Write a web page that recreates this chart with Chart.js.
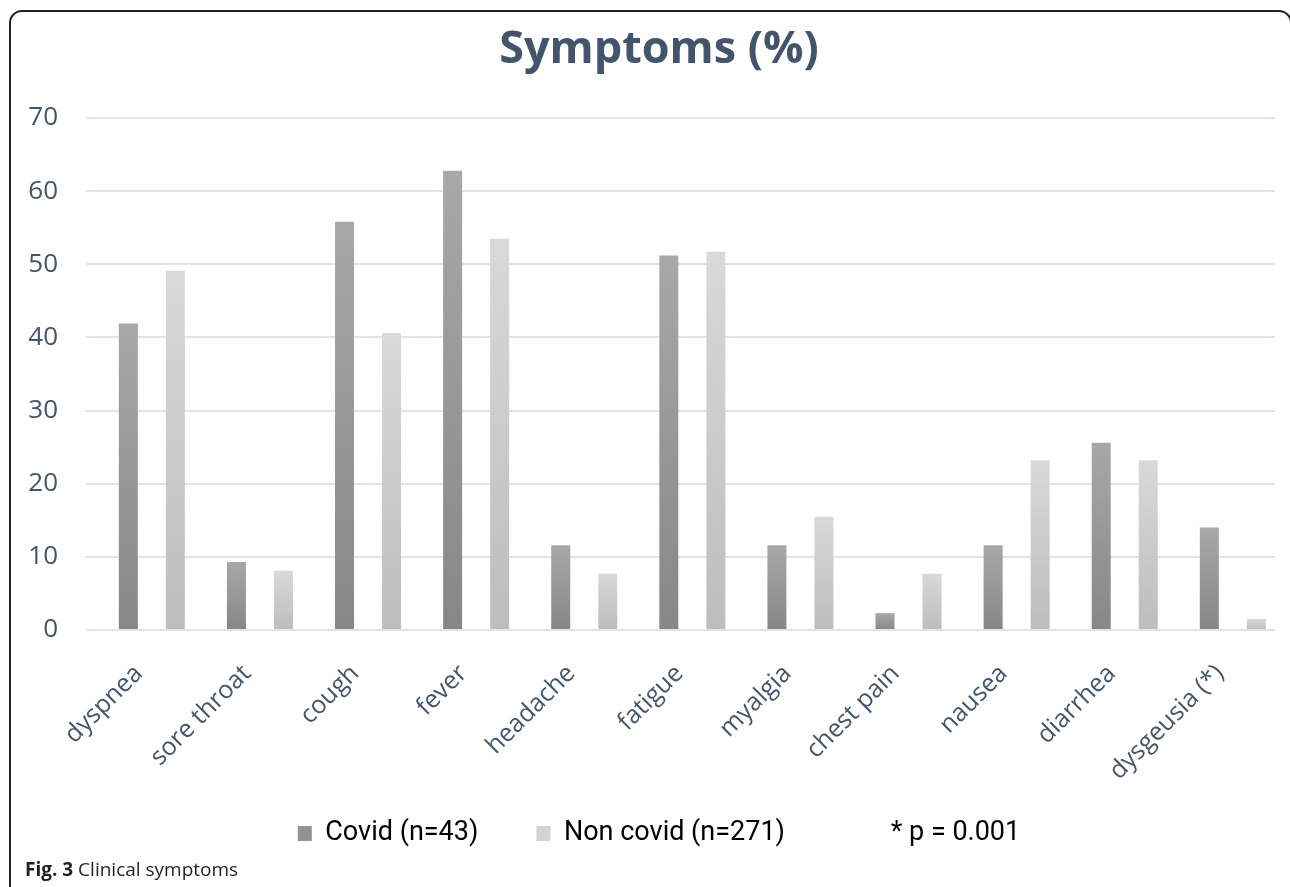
<!DOCTYPE html>
<html>
<head>
<meta charset="utf-8">
<script src="https://cdn.jsdelivr.net/npm/chart.js@4"></script>
<style>
html,body{margin:0;padding:0;background:#fff;width:1290px;height:887px;overflow:hidden}
#frame{position:absolute;left:9px;top:10px;width:1283px;height:920px;border:2px solid #222;border-radius:13px;box-sizing:border-box}
#wrap{position:absolute;left:0;top:0;width:1290px;height:887px}
#cap{position:absolute;left:25px;top:856px;font-family:"Open Sans",sans-serif;font-size:19px;color:#231f20;white-space:nowrap}
#cap b{font-weight:700}
</style>
</head>
<body>
<div id="frame"></div>
<div id="wrap"><canvas id="c" width="1290" height="887"></canvas></div>
<div id="cap"><b>Fig. 3</b> Clinical symptoms</div>
<script>
const categories = ['dyspnea', 'sore throat', 'cough', 'fever', 'headache', 'fatigue', 'myalgia', 'chest pain', 'nausea', 'diarrhea', 'dysgeusia (*)'];
const covid = [41.9, 9.3, 55.8, 62.8, 11.6, 51.2, 11.6, 2.3, 11.6, 25.6, 14.0];
const nonCovid = [49.1, 8.1, 40.6, 53.5, 7.7, 51.7, 15.5, 7.7, 23.2, 23.2, 1.5];
const yTicks = [0, 10, 20, 30, 40, 50, 60, 70];
const seriesNames = ['Covid (n=43)', 'Non covid (n=271)', '* p = 0.001'];
const titleText = 'Symptoms (%)';

const TEXT = '#44546a';
const GRID = '#dfe3ea';

function gradientFill(top, bottom) {
  return (ctx) => {
    const chart = ctx.chart;
    if (!chart.chartArea || ctx.type !== 'data' || !ctx.raw) return bottom;
    const ys = chart.scales.y;
    const g = chart.ctx.createLinearGradient(0, ys.getPixelForValue(ctx.raw.y), 0, ys.getPixelForValue(0));
    g.addColorStop(0, top);
    g.addColorStop(1, bottom);
    return g;
  };
}

const toPoints = (arr) => arr.map((v, i) => ({x: i, y: v}));

new Chart(document.getElementById('c'), {
  type: 'bar',
  data: {
    datasets: [
      {label: seriesNames[0], data: toPoints(covid), backgroundColor: gradientFill('#a8a8a8', '#878787'), borderWidth: 0,
       categoryPercentage: 0.87, barPercentage: 0.404},
      {label: seriesNames[1], data: toPoints(nonCovid), backgroundColor: gradientFill('#d9d9d9', '#bdbdbd'), borderWidth: 0,
       categoryPercentage: 0.87, barPercentage: 0.404}
    ]
  },
  options: {
    responsive: false,
    animation: false,
    devicePixelRatio: 1,
    layout: {padding: {top: 23, left: 28, right: 0, bottom: 30}},
    scales: {
      x: {
        type: 'linear',
        offset: false,
        min: -0.609,
        max: 10.39,
        afterBuildTicks: (axis) => { axis.ticks = categories.map((c, i) => ({value: i})); },
        afterFit: (axis) => { axis.height = 152; axis.paddingLeft = 3; axis.paddingRight = 15; },
        grid: {display: false, drawTicks: false, offset: false},
        border: {display: false},
        ticks: {
          autoSkip: false,
          minRotation: 45,
          maxRotation: 45,
          padding: 29,
          labelOffset: -13,
          color: TEXT,
          font: {family: 'Open Sans', size: 25},
          callback: (v) => categories[Math.round(v)] ?? ''
        }
      },
      y: {
        min: 0,
        max: 70,
        afterBuildTicks: (axis) => { axis.ticks = yTicks.map(v => ({value: v})); },
        afterFit: (axis) => { axis.width = 58; },
        grid: {color: GRID, lineWidth: 2, drawTicks: false},
        border: {display: false},
        ticks: {padding: 28, color: TEXT, font: {family: 'Open Sans', size: 26}}
      }
    },
    plugins: {
      title: {
        display: true,
        text: titleText,
        color: TEXT,
        font: {family: 'Open Sans', size: 45, weight: 'bold'},
        padding: {top: 0, bottom: 41}
      },
      legend: {
        display: true,
        position: 'bottom',
        labels: {
          color: TEXT,
          font: {family: 'Roboto', size: 27},
          boxWidth: 14,
          boxHeight: 15,
          padding: 38,
          generateLabels: () => [
            {text: seriesNames[0] + '   ', fillStyle: '#939393', strokeStyle: '#939393', lineWidth: 0, datasetIndex: 0},
            {text: seriesNames[1] + '      ', fillStyle: '#d3d3d3', strokeStyle: '#d3d3d3', lineWidth: 0, datasetIndex: 1},
            {text: seriesNames[2], fillStyle: 'rgba(0,0,0,0)', strokeStyle: 'rgba(0,0,0,0)', lineWidth: 0, datasetIndex: 2}
          ]
        }
      },
      tooltip: {enabled: false}
    }
  }
});
</script>
</body>
</html>
